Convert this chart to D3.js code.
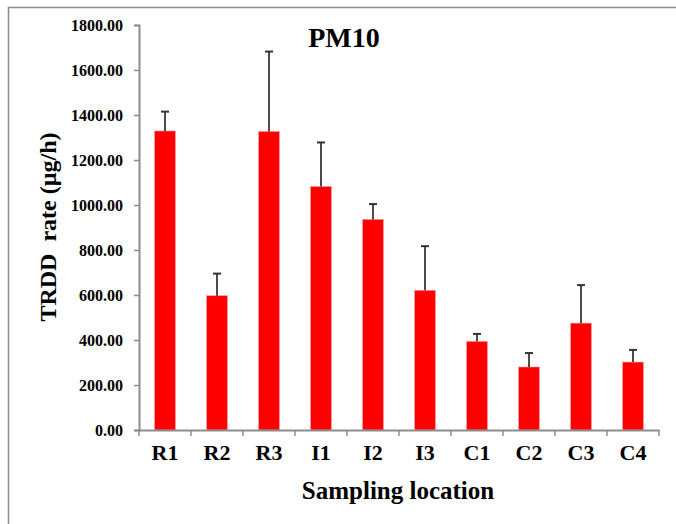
<!DOCTYPE html>
<html>
<head>
<meta charset="utf-8">
<script src="https://cdn.jsdelivr.net/npm/d3@7"></script>
<style>
  body { margin: 0; background: #fff; }
  text { font-family: "Liberation Serif", "Times New Roman", serif; font-weight: bold; }
</style>
</head>
<body>
<div id="canvas"></div>
<script>
const locations = ["R1", "R2", "R3", "I1", "I2", "I3", "C1", "C2", "C3", "C4"];
const rates = [1329, 597, 1327, 1082, 936, 621, 394, 280, 475, 302];
const errors = [86, 98, 355, 196, 68, 196, 33, 62, 169, 54];
const yTicks = [0, 200, 400, 600, 800, 1000, 1200, 1400, 1600, 1800];

const svg = d3.select("#canvas").append("svg")
    .attr("width", 676)
    .attr("height", 524);

// frame lines (top + left)
svg.append("path")
    .attr("d", "M8.5,524V7.5H676")
    .attr("fill", "none")
    .attr("stroke", "#8c8c8c")
    .attr("stroke-width", 1.5);

const margin = { top: 25, left: 139, right: 17, bottom: 94 };
const width = 676 - margin.left - margin.right;
const height = 524 - margin.top - margin.bottom;

const graph = svg.append("g")
    .attr("transform", `translate(${margin.left},${margin.top})`);

const x = d3.scaleBand()
    .domain(locations)
    .range([0, width]);

const y = d3.scaleLinear()
    .domain([0, 1800])
    .range([height, 0]);

const barW = x.bandwidth() * 0.4;

// bars
graph.selectAll("rect.bar")
    .data(locations)
    .enter()
    .append("rect")
    .attr("class", "bar")
    .attr("x", d => x(d) + x.bandwidth() / 2 - barW / 2)
    .attr("y", (d, i) => y(rates[i]))
    .attr("width", barW)
    .attr("height", (d, i) => height - y(rates[i]))
    .attr("fill", "#ff0000")
    .attr("stroke", "#ff9a9a")
    .attr("stroke-width", 0.6);

// error bars
const err = graph.selectAll("g.err")
    .data(locations)
    .enter()
    .append("g")
    .attr("class", "err");

err.append("line")
    .attr("x1", d => x(d) + x.bandwidth() / 2)
    .attr("x2", d => x(d) + x.bandwidth() / 2)
    .attr("y1", (d, i) => y(rates[i]))
    .attr("y2", (d, i) => y(rates[i] + errors[i]))
    .attr("stroke", "#111")
    .attr("stroke-width", 1.5);

err.append("line")
    .attr("x1", d => x(d) + x.bandwidth() / 2 - 4)
    .attr("x2", d => x(d) + x.bandwidth() / 2 + 4)
    .attr("y1", (d, i) => y(rates[i] + errors[i]))
    .attr("y2", (d, i) => y(rates[i] + errors[i]))
    .attr("stroke", "#333")
    .attr("stroke-width", 2);

// y axis
const yAxis = graph.append("g")
    .call(d3.axisLeft(y).tickValues(yTicks).tickFormat(d3.format(".2f")).tickSize(5).tickPadding(11));
yAxis.select(".domain").attr("stroke", "#8c8c8c").attr("stroke-width", 2);
yAxis.selectAll(".tick line").attr("stroke", "#8c8c8c").attr("stroke-width", 1.5);
yAxis.selectAll("text")
    .style("font-size", "16px")
    .style("font-family", "Liberation Serif, serif")
    .style("font-weight", "bold")
    .attr("fill", "#000");

// x axis with ticks between categories
const xAxis = graph.append("g")
    .attr("transform", `translate(0,${height})`)
    .call(d3.axisBottom(x).tickSize(0).tickPadding(14));
xAxis.select(".domain").attr("stroke", "#8c8c8c").attr("stroke-width", 2);
xAxis.selectAll("text")
    .style("font-size", "22px")
    .style("font-family", "Liberation Serif, serif")
    .style("font-weight", "bold")
    .attr("fill", "#000");

xAxis.selectAll("line.sep")
    .data(locations.concat(["end"]))
    .enter()
    .append("line")
    .attr("class", "sep")
    .attr("x1", (d, i) => i === locations.length ? width : x(d))
    .attr("x2", (d, i) => i === locations.length ? width : x(d))
    .attr("y1", 0)
    .attr("y2", 6)
    .attr("stroke", "#8c8c8c")
    .attr("stroke-width", 1.5);

// title
svg.append("text")
    .attr("x", 344)
    .attr("y", 47)
    .attr("text-anchor", "middle")
    .style("font-size", "28px")
    .text("PM10");

// y label
svg.append("text")
    .attr("transform", "rotate(-90)")
    .attr("x", -227)
    .attr("y", 56)
    .attr("text-anchor", "middle")
    .attr("xml:space", "preserve")
    .style("white-space", "pre")
    .style("font-size", "24px")
    .text("TRDD  rate (µg/h)");

// x label
svg.append("text")
    .attr("x", 398)
    .attr("y", 499)
    .attr("text-anchor", "middle")
    .style("font-size", "25px")
    .text("Sampling location");
</script>
</body>
</html>
